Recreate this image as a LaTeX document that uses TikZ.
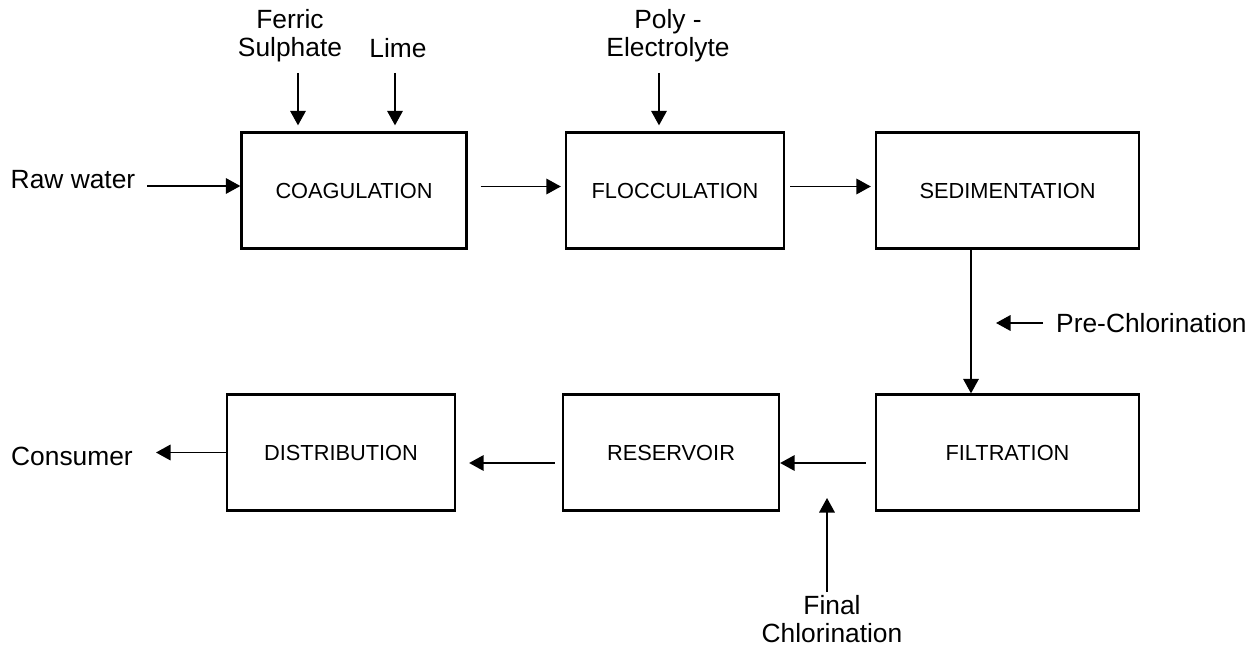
\documentclass[tikz,border=0pt]{standalone}
\usepackage{fontspec}
\setmainfont{Liberation Sans}
\usetikzlibrary{positioning, arrows.meta, shapes}

\begin{document}
\begin{tikzpicture}[auto, >={Triangle[length=2.9mm,width=3.1mm]},
    block/.style={draw, rectangle, line width=1.3pt, minimum height=2.32cm, font=\fontsize{12.4}{14}\selectfont},
    lbl/.style={align=center, font=\fontsize{15}{15.9}\selectfont},
    flow/.style={->, line width=1pt}]
    \useasboundingbox (0,0) rectangle (25.2,-13.02);

    \node [block, minimum width=4.5cm] (coag) at (7.08,-3.81) {COAGULATION};
    \node [block, minimum width=4.36cm, right of=coag, node distance=6.42cm] (floc) {FLOCCULATION};
    \node [block, minimum width=5.26cm, right of=floc, node distance=6.65cm] (sed) {SEDIMENTATION};
    \node [block, minimum width=5.26cm, below of=sed, node distance=5.24cm] (filt) {FILTRATION};
    \node [block, minimum width=4.32cm, left of=filt, node distance=6.73cm] (res) {RESERVOIR};
    \node [block, minimum width=4.56cm, left of=res, node distance=6.6cm] (dist) {DISTRIBUTION};

    \node [lbl] (raw) at (1.46,-3.6) {Raw water};
    \node [lbl] (ferric) at (5.8,-0.72) {Ferric\\Sulphate};
    \node [lbl] (lime) at (7.96,-0.96) {Lime};
    \node [lbl] (poly) at (13.36,-0.72) {Poly -\\Electrolyte};
    \node [lbl, anchor=west] (pre) at (21.0,-6.46) {Pre-Chlorination};
    \node [lbl] (final) at (16.64,-12.38) {Final\\Chlorination};
    \node [lbl] (cons) at (1.44,-9.12) {Consumer};

    \coordinate (rawout) at (2.94,-3.72);
    \coordinate (fsin) at (5.96,-1.46);
    \coordinate (limein) at (7.9,-1.46);
    \coordinate (polyin) at (13.18,-1.46);
    \coordinate (finalin) at (16.54,-11.84);
    \coordinate (finaltip) at (16.54,-9.96);
    \coordinate (consin) at (3.12,-9.02);

    % chemicals dosed from above
    \draw [flow] (rawout) -- (rawout -| coag.west);
    \draw [flow] (fsin) -- ([yshift=0.12cm]fsin |- coag.north);
    \draw [flow] (limein) -- ([yshift=0.12cm]limein |- coag.north);
    \draw [flow] (polyin) -- ([yshift=0.12cm]polyin |- floc.north);

    \draw [flow] ([xshift=0.26cm,yshift=0.08cm]coag.east) -- ([xshift=-0.08cm,yshift=0.08cm]floc.west);
    \draw [flow] ([xshift=0.1cm,yshift=0.08cm]floc.east) -- ([xshift=-0.08cm,yshift=0.08cm]sed.west);
    \draw [flow] ([xshift=-0.73cm]sed.south) -- ([xshift=-0.73cm]filt.north);
    \draw [flow] ([xshift=-0.14cm]pre.west) -- ([xshift=-1.08cm]pre.west);
    \draw [flow] ([xshift=-0.18cm,yshift=-0.21cm]filt.west) -- ([yshift=-0.21cm]res.east);
    \draw [flow] ([xshift=-0.14cm,yshift=-0.21cm]res.west) -- ([xshift=0.26cm,yshift=-0.21cm]dist.east);
    \draw [flow] (dist.west) -- (dist.west -| consin);
    \draw [flow] (finalin) -- (finaltip);
\end{tikzpicture}
\end{document}
